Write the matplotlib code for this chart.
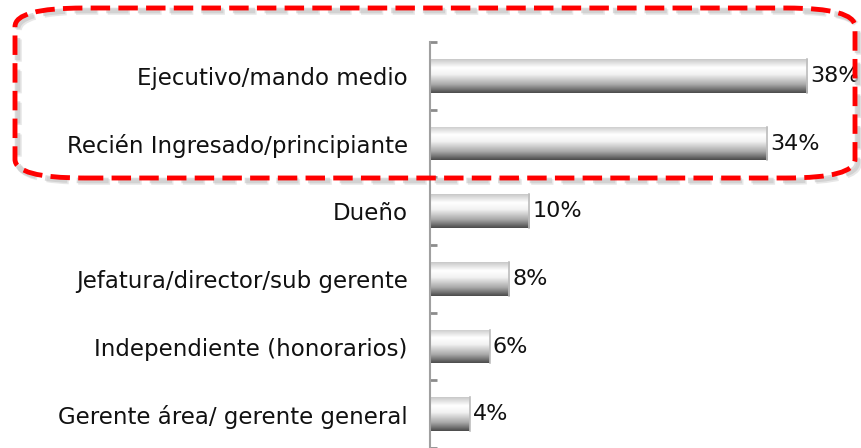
import numpy as np
import matplotlib.pyplot as plt
from matplotlib.colors import LinearSegmentedColormap
from matplotlib.patches import FancyBboxPatch, Rectangle

categorias = ['Ejecutivo/mando medio', 'Recién Ingresado/principiante', 'Dueño',
              'Jefatura/director/sub gerente', 'Independiente (honorarios)',
              'Gerente área/ gerente general']
valores = [38, 34, 10, 8, 6, 4]
etiquetas = ['38%', '34%', '10%', '8%', '6%', '4%']

plt.rcParams['font.family'] = ['DejaVu Sans']

fig = plt.figure(figsize=(8.61, 4.48), dpi=100)
ax = fig.add_axes([0.4994, 0.0, 0.461, 0.906])

y = np.arange(len(categorias))
alto = 0.5

# degradado vertical tipo cilindro
cmap = LinearSegmentedColormap.from_list('cil', [
    (0.0, '#c8c8c8'), (0.25, '#ffffff'), (0.45, '#f2f2f2'),
    (0.75, '#a8a8a8'), (1.0, '#4a4a4a')])
grad = np.linspace(0, 1, 256).reshape(-1, 1)

for yi, v in zip(y, valores):
    rect = Rectangle((0, yi - alto / 2), v, alto, facecolor='none', edgecolor='none')
    ax.add_patch(rect)
    im = ax.imshow(grad, cmap=cmap, aspect='auto',
                   extent=[0, v, yi + alto / 2, yi - alto / 2], zorder=2)
    im.set_clip_path(rect)
    ax.plot([v, v], [yi - alto / 2, yi + alto / 2], color='#bdbdbd', lw=1.2, zorder=3)

for yi, v, t in zip(y, valores, etiquetas):
    ax.text(v + 0.3, yi, t, va='center', ha='left', fontsize=16, color='#111111')

ax.set_xlim(0, 40)
ax.set_ylim(len(categorias) - 0.5, -0.5)
ax.set_yticks(y)
ax.set_yticklabels(categorias, fontsize=16.5, color='#111111')
ax.set_yticks(np.arange(len(categorias) + 1) - 0.5, minor=True)
ax.tick_params(axis='y', which='major', length=0, pad=16)
ax.tick_params(axis='y', which='minor', length=5, width=2, color='#8c8c8c', direction='in')
ax.set_xticks([])
for s in ['top', 'right', 'bottom']:
    ax.spines[s].set_visible(False)
ax.spines['left'].set_color('#a0a0a0')
ax.spines['left'].set_linewidth(1.5)

# recuadro rojo punteado con sombra
for dx, dy, col, a in [(4, 4, '#d8d8d8', 0.6), (2.5, 2.5, '#c4c4c4', 0.6)]:
    sombra = FancyBboxPatch(((15 + dx) / 861, 1 - (178 + dy) / 448), 840 / 861, 170 / 448,
                            boxstyle='round,pad=0,rounding_size=0.08',
                            transform=fig.transFigure, fill=False, edgecolor=col,
                            lw=4, linestyle=(0, (4, 1.7)), alpha=a, mutation_aspect=448 / 861)
    fig.patches.append(sombra)
caja = FancyBboxPatch((15 / 861, 1 - 178 / 448), 840 / 861, 170 / 448,
                      boxstyle='round,pad=0,rounding_size=0.08',
                      transform=fig.transFigure, fill=False, edgecolor='#ff0000',
                      lw=3.5, linestyle=(0, (4, 1.7)), mutation_aspect=448 / 861)
fig.patches.append(caja)

fig.savefig('out.png', dpi=100)
